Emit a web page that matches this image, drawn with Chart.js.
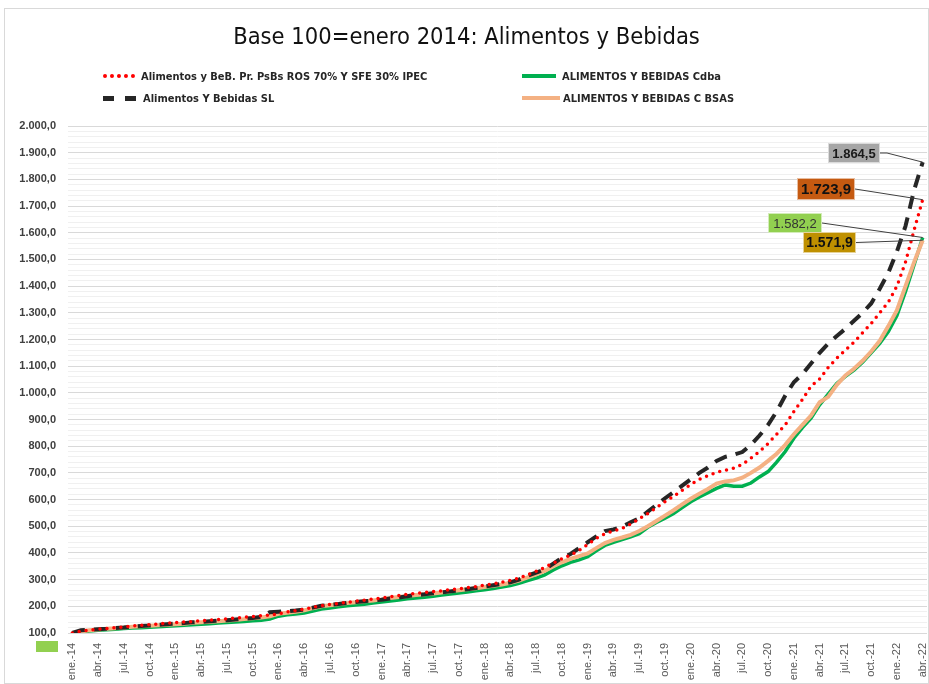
<!DOCTYPE html>
<html>
<head>
<meta charset="utf-8">
<script src="https://cdn.jsdelivr.net/npm/chart.js@4.4.0/dist/chart.umd.min.js"></script>
<style>
  body { margin: 0; background: #fff; font-family: 'Liberation Sans', Arial, sans-serif; }
  #frame { position: absolute; left: 4px; top: 8px; width: 923px; height: 674px; border: 1px solid #d9d9d9; }
  #title { position: absolute; left: 0; width: 100%; top: 13px; text-align: center; font-size: 23.5px; color: #111;
           font-family: 'Liberation Sans Narrow', 'DejaVu Sans Condensed', sans-serif; }
  .leg { position: absolute; display: flex; align-items: center; height: 16px; font-weight: bold; font-size: 11px;
         color: #262626; white-space: nowrap; font-family: 'Liberation Sans Narrow', 'DejaVu Sans Condensed', sans-serif; }
  .leg .s { display: inline-block; margin-right: 6px; }
  canvas { position: absolute; left: 0; top: 0; }
</style>
</head>
<body>
<div id="frame">
  <canvas id="chart0" width="923" height="674"></canvas>
  <div id="title">Base 100=enero 2014: Alimentos y Bebidas</div>
  <div id="legend"></div>
</div>
<script>
const monthNames = ["ene.", "feb.", "mar.", "abr.", "may.", "jun.", "jul.", "ago.", "sep.", "oct.", "nov.", "dic."];
const years = ["14", "15", "16", "17", "18", "19", "20", "21", "22"];
const lastMonth = 4; // abr.-22

const seriesNames = [
  "Alimentos y BeB. Pr. PsBs ROS 70% Y SFE 30% IPEC",
  "Alimentos Y Bebidas SL",
  "ALIMENTOS Y BEBIDAS C BSAS",
  "ALIMENTOS Y BEBIDAS Cdba"
];

// IPEC (rojo punteado)
const ipec = [100,107,111,114,117,120,123,126,129,131,134,137,139,141,143,146,148,151,153,156,
  159,162,165,167,172,179,184,190,196,203,207,211,215,219,223,227,231,236,240,245,
  249,252,255,258,262,266,270,274,279,284,290,297,306,318,331,346,362,378,392,410,
  432,455,472,482,492,508,528,548,570,592,612,635,657,676,690,702,710,718,732,755,
  780,810,845,880,930,975,1025,1052,1095,1130,1160,1190,1225,1260,1300,1340,1400,1490,1610,1723.9];

// SL (negro rayado)
const sl = [100,110,112,114,116,119,121,124,126,128,131,133,135,137,140,142,144,146,148,151,
  153,156,160,178,180,181,184,188,195,202,206,209,213,216,219,222,225,229,233,238,
  242,245,249,252,256,260,264,269,274,279,284,290,300,315,326,338,360,382,396,418,
  440,462,482,488,498,515,530,555,580,605,628,652,676,700,720,745,760,768,778,805,
  840,880,930,990,1040,1070,1110,1150,1185,1213,1240,1270,1300,1335,1390,1450,1530,1625,1760,1864.5];

// C BSAS (naranja)
const bsas = [100,106,110,113,116,118,121,123,125,127,129,131,133,135,138,140,142,144,147,149,
  152,155,158,163,172,176,180,185,193,200,204,208,212,215,219,222,226,231,235,239,
  242,245,248,252,256,260,264,268,272,277,282,288,296,308,320,333,350,365,378,388,
  398,418,437,449,458,468,482,500,520,540,560,582,603,622,640,660,668,672,682,700,
  720,745,772,805,845,880,915,965,985,1030,1065,1090,1120,1155,1195,1250,1310,1400,1490,1571.9];

// Cdba (verde)
const cdba = [100,104,107,110,112,114,117,119,120,122,123,125,127,129,131,133,135,137,139,141,
  143,146,148,152,163,168,171,175,182,190,194,198,202,205,208,212,216,220,224,228,
  231,234,238,242,246,250,254,258,262,267,272,278,286,296,306,318,336,352,365,374,
  386,408,428,440,450,460,472,496,514,530,548,570,592,610,626,642,655,650,650,662,
  685,705,740,780,830,870,905,955,995,1035,1062,1085,1115,1150,1185,1230,1290,1380,1480,1582.2];

const labels = [];
years.forEach((y, yi) => {
  monthNames.forEach((m, mi) => {
    if (yi === years.length - 1 && mi >= lastMonth) return;
    labels.push(m + "-" + y);
  });
});

function fmt(v) {
  let parts = v.toFixed(1).split(".");
  let ent = parts[0].replace(/\B(?=(\d{3})+(?!\d))/g, ".");
  return ent + "," + parts[1];
}

Chart.defaults.font.family = "'Liberation Sans', Arial, sans-serif";

// etiquetas de valor final con linea guia
const labelBoxes = [
  { ds: 1, bg: "#A6A6A6", color: "#1a1a1a", font: "bold 13px 'Liberation Sans'", box: [823, 134, 52, 20], bend: 7 },
  { ds: 0, bg: "#C55A11", color: "#111", font: "bold 15px 'Liberation Sans'", box: [792, 169, 58, 22], bend: 0 },
  { ds: 3, bg: "#92D050", color: "#333", font: "13px 'Liberation Sans'", box: [763, 204, 54, 20], bend: 0 },
  { ds: 2, bg: "#BF9000", color: "#111", font: "bold 14px 'Liberation Sans'", box: [798, 223, 53, 21], bend: 0 }
];

const valueLabels = {
  id: "valueLabels",
  afterDatasetsDraw(chart) {
    const c = chart.ctx;
    labelBoxes.forEach(lb => {
      const data = chart.data.datasets[lb.ds].data;
      const last = data.length - 1;
      const px = chart.scales.x.getPixelForValue(last);
      const py = chart.scales.y.getPixelForValue(data[last]);
      const [bx, by, bw, bh] = lb.box;
      c.save();
      c.strokeStyle = "#404040";
      c.lineWidth = 1;
      c.beginPath();
      c.moveTo(bx + bw, by + bh / 2);
      if (lb.bend) c.lineTo(bx + bw + lb.bend, by + bh / 2);
      c.lineTo(px, py);
      c.stroke();
      c.fillStyle = lb.bg;
      c.fillRect(bx, by, bw, bh);
      c.strokeStyle = "rgba(255,255,255,0.6)";
      c.strokeRect(bx + 0.5, by + 0.5, bw - 1, bh - 1);
      c.fillStyle = lb.color;
      c.font = lb.font;
      c.textAlign = "center";
      c.textBaseline = "middle";
      c.fillText(fmt(data[last]), bx + bw / 2, by + bh / 2 + 1);
      c.restore();
    });
  }
};

// cuadrito verde bajo el eje (como en la planilla original)
const cornerBox = {
  id: "cornerBox",
  afterDraw(chart) {
    const c = chart.ctx;
    c.save();
    c.fillStyle = "#92D050";
    c.fillRect(31, 632, 22, 11);
    c.restore();
  }
};

let ctx = document.getElementById("chart0").getContext("2d");
let chart = new Chart(ctx, {
  type: "line",
  data: {
    labels: labels,
    datasets: [
      { label: seriesNames[0], data: ipec, borderColor: "#FF0000", borderWidth: 3.5, borderDash: [0, 7], borderCapStyle: "round", pointRadius: 0 },
      { label: seriesNames[1], data: sl, borderColor: "#262626", borderWidth: 4, borderDash: [13, 9], pointRadius: 0 },
      { label: seriesNames[2], data: bsas, borderColor: "#F4B183", borderWidth: 4, pointRadius: 0 },
      { label: seriesNames[3], data: cdba, borderColor: "#00B050", borderWidth: 3.5, pointRadius: 0 }
    ]
  },
  options: {
    responsive: false,
    animation: false,
    layout: { padding: { left: 11, right: 1, top: 117, bottom: 0 } },
    plugins: { legend: { display: false }, tooltip: { enabled: false } },
    scales: {
      x: {
        offset: true,
        grid: { display: false },
        border: { display: false },
        ticks: {
          autoSkip: false, maxRotation: 90, minRotation: 90, padding: 2,
          color: "#595959", font: { size: 11 },
          callback: (v, i) => (i % 3 === 0 ? labels[i] : "")
        },
        afterFit: s => { s.height = 50; s.paddingLeft = 0; s.paddingRight = 0; }
      },
      y: {
        min: 100, max: 2000,
        grid: { color: c => (c.tick && Math.round(c.tick.value) % 100 === 0 ? "#d9d9d9" : "#f0f0f0"), drawTicks: false },
        border: { display: false },
        ticks: {
          stepSize: 20, autoSkip: false, padding: 12, color: "#404040",
          font: { size: 11, weight: "bold" },
          callback: v => (Math.round(v) % 100 === 0 ? fmt(v) : "")
        },
        afterFit: s => { s.width = 52; }
      }
    }
  },
  plugins: [valueLabels, cornerBox]
});

// leyenda en dos columnas
const legendItems = [
  { ds: 0, left: 98, top: 59, sample: "width:32px;height:0;border-top:4px dotted #FF0000;" },
  { ds: 3, left: 517, top: 59, sample: "width:34px;height:4px;background:#00B050;" },
  { ds: 1, left: 98, top: 81, sample: "width:34px;height:5px;background:repeating-linear-gradient(90deg,#262626 0 11px,transparent 11px 22px);" },
  { ds: 2, left: 517, top: 81, sample: "width:38px;height:4px;background:#F4B183;margin-right:3px;" }
];
const legendEl = document.getElementById("legend");
legendItems.forEach(it => {
  const d = document.createElement("div");
  d.className = "leg";
  d.style.left = it.left + "px";
  d.style.top = it.top + "px";
  d.innerHTML = '<span class="s" style="' + it.sample + '"></span><span>' + seriesNames[it.ds] + "</span>";
  legendEl.appendChild(d);
});
</script>
</body>
</html>
